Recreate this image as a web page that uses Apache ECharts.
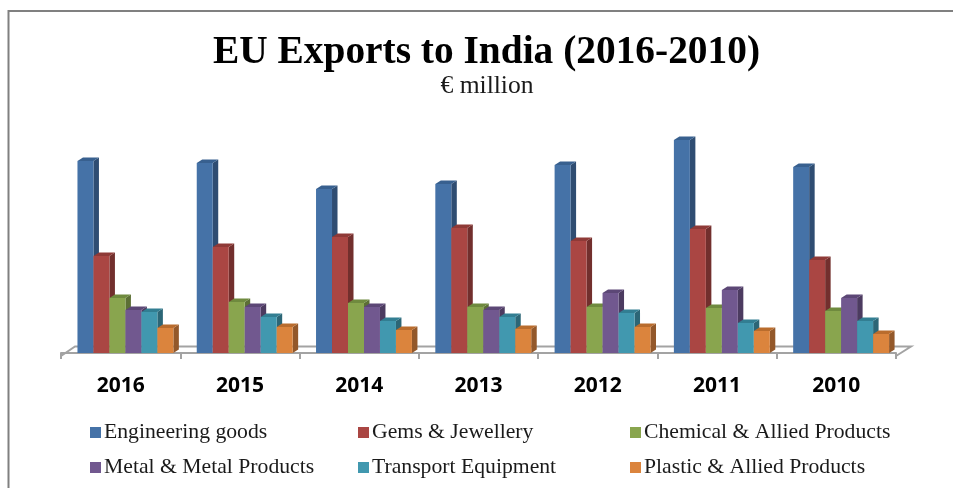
<!DOCTYPE html>
<html>
<head>
<meta charset="utf-8">
<title>EU Exports to India</title>
<style>
  html, body { margin: 0; padding: 0; background: #fff; }
  #chart { width: 953px; height: 488px; }
</style>
<script src="https://cdn.jsdelivr.net/npm/echarts@6/dist/echarts.min.js"></script>
</head>
<body>
<div id="chart"></div>
<script>
var years = ['2016', '2015', '2014', '2013', '2012', '2011', '2010'];
var engineering = [1920, 1900, 1640, 1690, 1880, 2130, 1860];
var gems = [970, 1060, 1160, 1250, 1120, 1240, 930];
var chemical = [550, 510, 500, 460, 460, 450, 420];
var metal = [430, 460, 460, 430, 600, 630, 550];
var transport = [410, 360, 320, 360, 400, 300, 320];
var plastic = [250, 260, 230, 240, 260, 220, 190];

var products = [
  { name: 'Engineering goods', values: engineering, front: '#4572a7', side: '#2f4d72', top: '#38608f' },
  { name: 'Gems & Jewellery', values: gems, front: '#aa4643', side: '#722f2d', top: '#8f3a37' },
  { name: 'Chemical & Allied Products', values: chemical, front: '#89a54e', side: '#5c6f35', top: '#6f8a3e' },
  { name: 'Metal & Metal Products', values: metal, front: '#71588f', side: '#4c3b60', top: '#5c4776' },
  { name: 'Transport Equipment', values: transport, front: '#4198af', side: '#2c6676', top: '#327e92' },
  { name: 'Plastic & Allied Products', values: plastic, front: '#db843d', side: '#93582a', top: '#b96c2d' }
];

var axisGrey = '#a3a3a3';
var barShare = 0.134;
var groupStart = 0.138;
var depthX = 5.5;
var depthY = 3.5;

function barRenderer(k, product) {
  return function (params, api) {
    var band = api.size([1, 0])[0];
    var top = api.coord([api.value(0), api.value(1)]);
    var base = api.coord([api.value(0), 0]);
    var w = band * barShare;
    var x = top[0] - band / 2 + band * groupStart + k * w;
    return {
      type: 'group',
      children: [
        {
          type: 'polygon',
          shape: { points: [[x + w, top[1]], [x + w + depthX, top[1] - depthY], [x + w + depthX, base[1] - depthY], [x + w, base[1]]] },
          style: { fill: product.side }
        },
        {
          type: 'polygon',
          shape: { points: [[x, top[1]], [x + depthX, top[1] - depthY], [x + w + depthX, top[1] - depthY], [x + w, top[1]]] },
          style: { fill: product.top }
        },
        {
          type: 'rect',
          shape: { x: x, y: top[1], width: w, height: base[1] - top[1] },
          style: { fill: product.front }
        }
      ]
    };
  };
}

// floor of the 3d plot, behind the bars
function floorRenderer(params) {
  var c = params.coordSys;
  var front = c.y + c.height + 3;
  var back = c.y + c.height - 6.5;
  return {
    type: 'polyline',
    shape: { points: [[c.x, front], [c.x + 14, back], [c.x + c.width + 15, back], [c.x + c.width, front]] },
    style: { fill: null, stroke: axisGrey, lineWidth: 2 }
  };
}

var series = [{
  type: 'custom',
  name: 'floor',
  silent: true,
  z: 1,
  data: [[0, 0]],
  renderItem: floorRenderer
}];

products.forEach(function (p, k) {
  series.push({
    type: 'custom',
    name: p.name,
    z: 2,
    itemStyle: { color: p.front },
    encode: { x: 0, y: 1 },
    data: p.values.map(function (v, i) { return [i, v]; }),
    renderItem: barRenderer(k, p)
  });
});

function legendColumn(left, names) {
  return {
    left: left,
    top: 421,
    orient: 'vertical',
    padding: 0,
    itemGap: 12,
    itemWidth: 11,
    itemHeight: 11,
    icon: 'rect',
    selectedMode: false,
    data: names,
    textStyle: { fontFamily: 'Liberation Serif', fontSize: 21.7, color: '#1a1a1a', padding: [0, 0, 0, -2], height: 23, lineHeight: 23 }
  };
}

var chart = echarts.init(document.getElementById('chart'), null, { renderer: 'canvas' });
chart.setOption({
  animation: false,
  backgroundColor: '#fff',
  title: [
    {
      text: 'EU Exports to India (2016-2010)',
      left: 486.5,
      top: 33,
      textAlign: 'center',
      padding: 0,
      textStyle: { fontFamily: 'Liberation Serif', fontSize: 39.4, fontWeight: 'bold', color: '#000' }
    },
    {
      text: '€ million',
      left: 487,
      top: 73,
      textAlign: 'center',
      padding: 0,
      textStyle: { fontFamily: 'Liberation Serif', fontSize: 25.6, fontWeight: 'normal', color: '#1a1a1a' }
    }
  ],
  legend: [
    legendColumn(90, ['Engineering goods', 'Metal & Metal Products']),
    legendColumn(358, ['Gems & Jewellery', 'Transport Equipment']),
    legendColumn(630, ['Chemical & Allied Products', 'Plastic & Allied Products'])
  ],
  grid: { left: 61, top: 100, width: 835, height: 253, containLabel: false },
  xAxis: {
    type: 'category',
    data: years,
    offset: 3,
    axisLine: { lineStyle: { color: axisGrey, width: 2 } },
    axisTick: { show: true, length: 6, lineStyle: { color: axisGrey, width: 2 } },
    axisLabel: { margin: 20, fontFamily: 'Open Sans', fontSize: 21, fontWeight: 'bold', color: '#000' },
    splitLine: { show: false }
  },
  yAxis: {
    type: 'value',
    min: 0,
    max: 2530,
    show: false,
    splitLine: { show: false }
  },
  graphic: [{
    type: 'polyline',
    silent: true,
    shape: { points: [[8.5, 488], [8.5, 11], [953, 11]] },
    style: { fill: null, stroke: '#808080', lineWidth: 2 }
  }],
  series: series
});
</script>
</body>
</html>
